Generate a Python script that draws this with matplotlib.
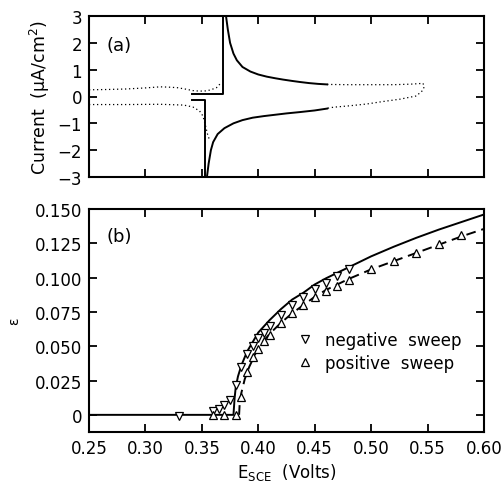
import matplotlib
matplotlib.use("Agg")
import matplotlib.pyplot as plt
from matplotlib.lines import Line2D

plt.rcParams['font.family'] = ['DejaVu Sans']
plt.rcParams['font.size'] = 12
plt.rcParams['mathtext.default'] = 'regular'

# ---------------- Panel (a): current ----------------
up_step_x = [0.341, 0.3687, 0.3687]
up_step_y = [0.10, 0.10, 3.0]
up_decay_x = [0.3714, 0.373, 0.375, 0.378, 0.381, 0.386, 0.393, 0.400, 0.4075, 0.415, 0.422, 0.430, 0.437, 0.445, 0.453, 0.461]
up_decay_y = [3.0, 2.5, 2.0, 1.6, 1.35, 1.1, 0.93, 0.82, 0.74, 0.68, 0.63, 0.58, 0.54, 0.50, 0.47, 0.45]
lo_step_x = [0.341, 0.3525, 0.3525]
lo_step_y = [-0.12, -0.12, -3.0]
lo_decay_x = [0.3545, 0.356, 0.358, 0.360, 0.364, 0.370, 0.378, 0.386, 0.395, 0.405, 0.415, 0.425, 0.437, 0.450, 0.461]
lo_decay_y = [-3.0, -2.5, -2.0, -1.7, -1.4, -1.18, -1.0, -0.88, -0.79, -0.73, -0.68, -0.63, -0.58, -0.52, -0.45]

dot_ul_x = [0.25, 0.265, 0.283, 0.300, 0.313, 0.320, 0.328, 0.335, 0.342, 0.348, 0.354, 0.358, 0.363, 0.3675]
dot_ul_y = [0.25, 0.26, 0.28, 0.32, 0.36, 0.35, 0.33, 0.28, 0.22, 0.20, 0.21, 0.25, 0.33, 0.53]
dot_ll_x = [0.25, 0.283, 0.313, 0.334, 0.342, 0.348, 0.351, 0.353, 0.355, 0.357]
dot_ll_y = [-0.30, -0.30, -0.29, -0.32, -0.39, -0.54, -0.73, -1.05, -1.4, -1.65]
dot_r_x = [0.461, 0.480, 0.500, 0.520, 0.535, 0.546, 0.547, 0.545, 0.540, 0.5255, 0.510, 0.496, 0.480, 0.4665, 0.461]
dot_r_y = [0.45, 0.44, 0.44, 0.44, 0.46, 0.49, 0.35, 0.20, 0.02, -0.10, -0.19, -0.28, -0.35, -0.40, -0.44]

a_yticks = [-3, -2, -1, 0, 1, 2, 3]

# ---------------- Panel (b): strain ----------------
neg_fit_x = [0.25, 0.378, 0.379, 0.380, 0.382, 0.385, 0.390, 0.395, 0.400, 0.410, 0.420, 0.430, 0.440,
             0.450, 0.460, 0.480, 0.500, 0.520, 0.540, 0.560, 0.580, 0.600]
neg_fit_y = [0.0, 0.0, 0.012, 0.020, 0.028, 0.036, 0.046, 0.053, 0.060, 0.069, 0.077, 0.084, 0.089,
             0.095, 0.0995, 0.1075, 0.1155, 0.1225, 0.129, 0.135, 0.1405, 0.146]
pos_fit_x = [0.383, 0.3835, 0.385, 0.388, 0.392, 0.400, 0.410, 0.420, 0.430, 0.440, 0.450, 0.460,
             0.480, 0.500, 0.520, 0.540, 0.560, 0.580, 0.600]
pos_fit_y = [0.0, 0.008, 0.016, 0.026, 0.035, 0.049, 0.059, 0.067, 0.074, 0.080, 0.086, 0.091,
             0.099, 0.106, 0.112, 0.118, 0.124, 0.130, 0.1355]

neg_x = [0.33, 0.36, 0.365, 0.37, 0.375, 0.38, 0.385, 0.39, 0.395, 0.40, 0.405, 0.41, 0.42, 0.43,
         0.44, 0.45, 0.46, 0.47, 0.48]
neg_y = [-0.001, 0.003, 0.004, 0.007, 0.011, 0.022, 0.035, 0.044, 0.050, 0.056, 0.060, 0.065, 0.073,
         0.080, 0.086, 0.092, 0.096, 0.101, 0.106]
pos_x = [0.36, 0.37, 0.38, 0.385, 0.39, 0.395, 0.40, 0.405, 0.41, 0.42, 0.43, 0.44, 0.45, 0.46,
         0.47, 0.48, 0.50, 0.52, 0.54, 0.56, 0.58]
pos_y = [0.0, 0.0, 0.0, 0.013, 0.031, 0.042, 0.048, 0.054, 0.058, 0.067, 0.074, 0.080, 0.086, 0.090,
         0.094, 0.098, 0.106, 0.112, 0.118, 0.1245, 0.131]

b_yticks = [0, 0.025, 0.050, 0.075, 0.100, 0.125, 0.150]
b_yticklabels = ['0', '0.025', '0.050', '0.075', '0.100', '0.125', '0.150']
x_ticks = [0.25, 0.30, 0.35, 0.40, 0.45, 0.50, 0.55, 0.60]
x_ticklabels = ['0.25', '0.30', '0.35', '0.40', '0.45', '0.50', '0.55', '0.60']

fig = plt.figure(figsize=(5.04, 4.89), dpi=100)
L, R = 89 / 504, 484 / 504
axa = fig.add_axes([L, 1 - 178 / 489, R - L, (178 - 17) / 489])
axb = fig.add_axes([L, 1 - 433 / 489, R - L, (433 - 210) / 489])

lw = 1.4
dot_style = dict(color='black', lw=0.9, linestyle=(0, (1, 2.2)))
axa.plot(dot_ul_x, dot_ul_y, **dot_style)
axa.plot(dot_ll_x, dot_ll_y, **dot_style)
axa.plot(dot_r_x, dot_r_y, **dot_style)
axa.plot(up_step_x, up_step_y, color='black', lw=lw)
axa.plot(up_decay_x, up_decay_y, color='black', lw=lw)
axa.plot(lo_step_x, lo_step_y, color='black', lw=lw)
axa.plot(lo_decay_x, lo_decay_y, color='black', lw=lw)
axa.set_xlim(0.25, 0.60)
axa.set_ylim(-3, 3)
axa.set_yticks(a_yticks)
axa.set_xticks(x_ticks)
axa.set_xticklabels([])
axa.set_ylabel('Current  (μA/cm$^2$)', labelpad=4, fontsize=12.5)
axa.text(0.045, 0.82, '(a)', transform=axa.transAxes, va='center', ha='left', fontsize=13)

axb.plot(neg_fit_x, neg_fit_y, color='black', lw=lw)
axb.plot(pos_fit_x, pos_fit_y, color='black', lw=lw, linestyle=(0, (5, 3)))
ms = 6.3
axb.plot(neg_x, neg_y, linestyle='none', marker='v', ms=ms, mfc='white', mec='black', mew=0.9)
axb.plot(pos_x, pos_y, linestyle='none', marker='^', ms=ms, mfc='white', mec='black', mew=0.9)
axb.set_xlim(0.25, 0.60)
axb.set_ylim(-0.0125, 0.150)
axb.set_yticks(b_yticks)
axb.set_yticklabels(b_yticklabels)
axb.set_xticks(x_ticks)
axb.set_xticklabels(x_ticklabels)
axb.set_xlabel('E$_{SCE}$  (Volts)', labelpad=3)
axb.set_ylabel('ε', fontsize=10, labelpad=10)
axb.text(0.045, 0.88, '(b)', transform=axb.transAxes, va='center', ha='left', fontsize=13)

handles = [Line2D([], [], linestyle='none', marker='v', ms=ms, mfc='white', mec='black', mew=0.9),
           Line2D([], [], linestyle='none', marker='^', ms=ms, mfc='white', mec='black', mew=0.9)]
axb.legend(handles, ['negative  sweep', 'positive  sweep'], loc='center left',
           bbox_to_anchor=(0.526, 0.363), frameon=False, handlelength=1.0,
           handletextpad=0.7, labelspacing=0.3, borderpad=0, borderaxespad=0, fontsize=12)

for ax in (axa, axb):
    for s in ax.spines.values():
        s.set_linewidth(1.5)
    ax.tick_params(direction='in', top=True, right=True, length=6, width=1.3, labelsize=12, pad=5)

fig.savefig('out.png', dpi=100)
